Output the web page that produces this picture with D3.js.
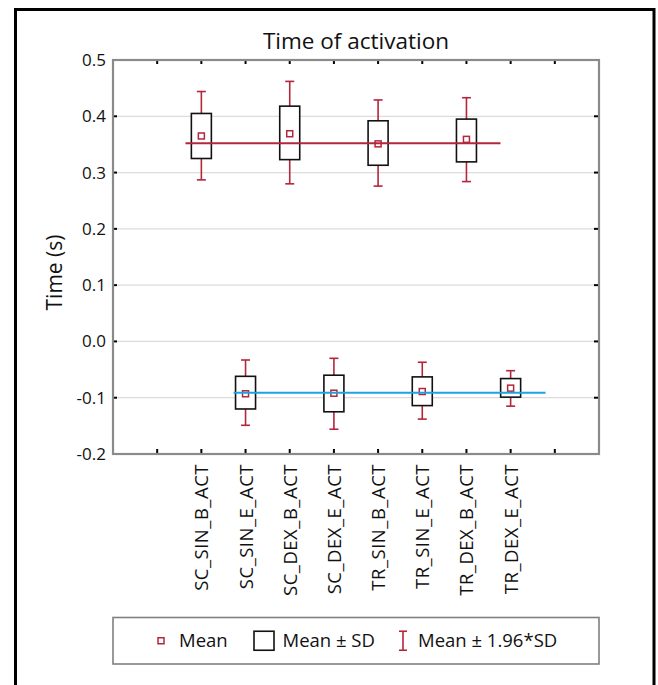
<!DOCTYPE html>
<html>
<head>
<meta charset="utf-8">
<script src="https://cdn.jsdelivr.net/npm/d3@7"></script>
<style>
  html, body { margin: 0; padding: 0; background: #fff; }
  svg { display: block; font-family: "Open Sans", "Noto Sans", sans-serif; }
</style>
</head>
<body>
<svg id="chart" width="658" height="685"></svg>
<script>
// ---- data ----
const chartTitle = "Time of activation";
const yLabel = "Time (s)";
const categories = ["SC_SIN_B_ACT","SC_SIN_E_ACT","SC_DEX_B_ACT","SC_DEX_E_ACT","TR_SIN_B_ACT","TR_SIN_E_ACT","TR_DEX_B_ACT","TR_DEX_E_ACT"];
const means  = [0.365, -0.093, 0.369, -0.092, 0.351, -0.089, 0.359, -0.083];
const sdLow  = [0.325, -0.120, 0.323, -0.125, 0.313, -0.114, 0.319, -0.099];
const sdHigh = [0.405, -0.062, 0.418, -0.060, 0.392, -0.063, 0.395, -0.066];
const ciLow  = [0.287, -0.149, 0.280, -0.156, 0.276, -0.138, 0.284, -0.115];
const ciHigh = [0.444, -0.033, 0.462, -0.030, 0.429, -0.037, 0.433, -0.052];
const yTicks = [-0.2, -0.1, 0.0, 0.1, 0.2, 0.3, 0.4, 0.5];
const groupNames = ["B", "E"];
const groupMeans = [0.352, -0.091];
const groupMembers = [
  ["SC_SIN_B_ACT","SC_DEX_B_ACT","TR_SIN_B_ACT","TR_DEX_B_ACT"],
  ["SC_SIN_E_ACT","SC_DEX_E_ACT","TR_SIN_E_ACT","TR_DEX_E_ACT"]
];
const legendLabels = ["Mean", "Mean \u00b1 SD", "Mean \u00b1 1.96*SD"];

// ---- style ----
const RED = "#b3263b";
const BLUE = "#1ba5df";
const groupColors = [RED, BLUE];
const groupExtent = [[-0.36, 0.77], [-0.27, 0.79]]; // in steps, before first / after last

const svg = d3.select("#chart");
const plot = { left: 113, top: 60, right: 599, bottom: 454 };

// outer frame (open at the bottom)
svg.append("rect")
  .attr("x", 15.5).attr("y", 9.5)
  .attr("width", 638.5).attr("height", 720)
  .attr("fill", "none").attr("stroke", "#000").attr("stroke-width", 3);

// scales
const x = d3.scalePoint()
  .domain(["__L", ...categories, "__R"])
  .range([plot.left, plot.right])
  .padding(1);
const step = x.step();
const y = d3.scaleLinear().domain([-0.2, 0.5]).range([plot.bottom, plot.top]);
const fmtLocale = d3.formatLocale({decimal: ".", thousands: ",", grouping: [3], currency: ["", ""], minus: "-"});
const fmt = fmtLocale.format(".1f");
const inner = yTicks.filter(t => t > -0.2 && t < 0.5);

// gridlines
svg.append("g").selectAll("line")
  .data(inner)
  .join("line")
  .attr("x1", plot.left).attr("x2", plot.right)
  .attr("y1", d => y(d)).attr("y2", d => y(d))
  .attr("stroke", "#dcdcdc").attr("stroke-width", 1.2);

// left axis labels
const yAxis = svg.append("g")
  .attr("transform", `translate(${plot.left},0)`)
  .call(d3.axisLeft(y).tickValues(yTicks).tickFormat(fmt).tickSize(0).tickPadding(7));
yAxis.select(".domain").remove();
yAxis.selectAll("text").attr("font-size", 17).attr("fill", "#111")
  .attr("font-family", "'Open Sans', sans-serif");

// inward ticks
const tickLen = 4;
svg.append("g").selectAll("line").data(inner).join("line")
  .attr("x1", plot.left).attr("x2", plot.left + tickLen)
  .attr("y1", d => y(d)).attr("y2", d => y(d))
  .attr("stroke", "#000").attr("stroke-width", 2);
svg.append("g").selectAll("line").data(inner).join("line")
  .attr("x1", plot.right - 1).attr("x2", plot.right - 1 - tickLen)
  .attr("y1", d => y(d)).attr("y2", d => y(d))
  .attr("stroke", "#000").attr("stroke-width", 2);
svg.append("g").selectAll("line").data(x.domain()).join("line")
  .attr("x1", d => x(d)).attr("x2", d => x(d))
  .attr("y1", plot.top).attr("y2", plot.top + tickLen)
  .attr("stroke", "#000").attr("stroke-width", 2);
svg.append("g").selectAll("line").data(x.domain()).join("line")
  .attr("x1", d => x(d)).attr("x2", d => x(d))
  .attr("y1", plot.bottom - 1).attr("y2", plot.bottom - 1 - tickLen)
  .attr("stroke", "#000").attr("stroke-width", 2);

// x labels (rotated)
const xAxis = svg.append("g")
  .attr("transform", `translate(0,${plot.bottom})`)
  .call(d3.axisBottom(x).tickValues(categories).tickSize(0).tickPadding(0));
xAxis.select(".domain").remove();
xAxis.selectAll("text")
  .attr("font-size", 18.5).attr("fill", "#111")
  .attr("letter-spacing", "0.5px")
  .attr("font-family", "'Open Sans', sans-serif")
  .attr("text-anchor", "end")
  .attr("dy", "0.35em")
  .attr("transform", "translate(0,10) rotate(-90)")
  .attr("x", 0).attr("y", 0);

// data rows
const rows = categories.map((c, i) => ({
  cat: c, mean: means[i], sdLo: sdLow[i], sdHi: sdHigh[i], ciLo: ciLow[i], ciHi: ciHigh[i]
}));

const marks = svg.append("g");
const capW = 9, boxW = 20, sq = 6;
marks.selectAll(".whisk").data(rows).join("line").attr("class", "whisk")
  .attr("x1", d => x(d.cat)).attr("x2", d => x(d.cat))
  .attr("y1", d => y(d.ciLo)).attr("y2", d => y(d.ciHi))
  .attr("stroke", RED).attr("stroke-width", 1.6);
marks.selectAll(".capHi").data(rows).join("line").attr("class", "capHi")
  .attr("x1", d => x(d.cat) - capW / 2).attr("x2", d => x(d.cat) + capW / 2)
  .attr("y1", d => y(d.ciHi)).attr("y2", d => y(d.ciHi))
  .attr("stroke", RED).attr("stroke-width", 1.6);
marks.selectAll(".capLo").data(rows).join("line").attr("class", "capLo")
  .attr("x1", d => x(d.cat) - capW / 2).attr("x2", d => x(d.cat) + capW / 2)
  .attr("y1", d => y(d.ciLo)).attr("y2", d => y(d.ciLo))
  .attr("stroke", RED).attr("stroke-width", 1.6);
marks.selectAll(".box").data(rows).join("rect").attr("class", "box")
  .attr("x", d => x(d.cat) - boxW / 2).attr("width", boxW)
  .attr("y", d => y(d.sdHi)).attr("height", d => y(d.sdLo) - y(d.sdHi))
  .attr("fill", "#fff").attr("stroke", "#111").attr("stroke-width", 1.6);
marks.selectAll(".mean").data(rows).join("rect").attr("class", "mean")
  .attr("x", d => x(d.cat) - sq / 2).attr("width", sq)
  .attr("y", d => y(d.mean) - sq / 2).attr("height", sq)
  .attr("fill", "#fff").attr("stroke", RED).attr("stroke-width", 1.5);

// group mean lines
const gl = groupNames.map((g, i) => ({
  name: g, value: groupMeans[i], color: groupColors[i],
  x1: x(groupMembers[i][0]) + groupExtent[i][0] * step,
  x2: x(groupMembers[i][groupMembers[i].length - 1]) + groupExtent[i][1] * step
}));
svg.append("g").selectAll("line").data(gl).join("line")
  .attr("x1", d => d.x1).attr("x2", d => d.x2)
  .attr("y1", d => y(d.value)).attr("y2", d => y(d.value))
  .attr("stroke", d => d.color).attr("stroke-width", 2);

// plot frame
svg.append("rect")
  .attr("x", plot.left).attr("y", plot.top)
  .attr("width", plot.right - plot.left).attr("height", plot.bottom - plot.top)
  .attr("fill", "none").attr("stroke", "#8a8a8a").attr("stroke-width", 2.2);

// title
svg.append("text")
  .attr("x", (plot.left + plot.right) / 2).attr("y", 48.5)
  .attr("text-anchor", "middle").attr("font-size", 22.5).attr("fill", "#111")
  .text(chartTitle);

// y label
svg.append("text")
  .attr("transform", `translate(61.5,272.5) rotate(-90)`)
  .attr("text-anchor", "middle").attr("font-size", 21).attr("fill", "#111")
  .text(yLabel);

// legend
const lg = { left: plot.left, right: plot.right, top: 617.5, bottom: 664 };
svg.append("rect")
  .attr("x", lg.left).attr("y", lg.top)
  .attr("width", lg.right - lg.left).attr("height", lg.bottom - lg.top)
  .attr("fill", "#fff").attr("stroke", "#808080").attr("stroke-width", 1.6);
const lgCy = (lg.top + lg.bottom) / 2;
const lgG = svg.append("g");
lgG.append("rect").attr("x", 161 - 3).attr("y", lgCy - 3).attr("width", 6).attr("height", 6)
  .attr("fill", "#fff").attr("stroke", RED).attr("stroke-width", 1.5);
lgG.append("rect").attr("x", 254).attr("y", lgCy - 9.5).attr("width", 20).attr("height", 19)
  .attr("fill", "#fff").attr("stroke", "#111").attr("stroke-width", 1.6);
lgG.append("line").attr("x1", 403).attr("x2", 403).attr("y1", lgCy - 9.5).attr("y2", lgCy + 9.5)
  .attr("stroke", RED).attr("stroke-width", 1.6);
lgG.append("line").attr("x1", 399).attr("x2", 407).attr("y1", lgCy - 9.5).attr("y2", lgCy - 9.5)
  .attr("stroke", RED).attr("stroke-width", 1.6);
lgG.append("line").attr("x1", 399).attr("x2", 407).attr("y1", lgCy + 9.5).attr("y2", lgCy + 9.5)
  .attr("stroke", RED).attr("stroke-width", 1.6);
const lgTextX = [179, 282.5, 418];
lgG.selectAll("text.lg").data(legendLabels).join("text").attr("class", "lg")
  .attr("x", (d, i) => lgTextX[i]).attr("y", lgCy + 6.5)
  .attr("font-size", 18.5).attr("fill", "#111")
  .text(d => d);
</script>
</body>
</html>
